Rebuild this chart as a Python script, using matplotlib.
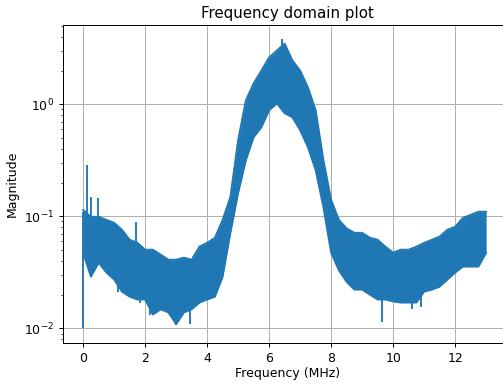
import matplotlib
matplotlib.use("Agg")
import matplotlib.pyplot as plt

freq = [0.0, 0.25, 0.5, 0.75, 1.0, 1.25, 1.5, 1.75, 2.0, 2.25, 2.5, 2.75, 3.0,
        3.25, 3.5, 3.75, 4.0, 4.25, 4.5, 4.75, 5.0, 5.25, 5.5, 5.75, 6.0, 6.25,
        6.5, 6.75, 7.0, 7.25, 7.5, 7.75, 8.0, 8.25, 8.5, 8.75, 9.0, 9.25, 9.5,
        9.75, 10.0, 10.25, 10.5, 10.75, 11.0, 11.25, 11.5, 11.75, 12.0, 12.25,
        12.5, 12.75, 13.0]
mag_upper = [0.114, 0.099, 0.099, 0.093, 0.0875, 0.076, 0.0618, 0.058, 0.0504,
             0.0504, 0.0455, 0.041, 0.041, 0.0428, 0.041, 0.0536, 0.058, 0.0644,
             0.093, 0.149, 0.479, 1.085, 1.54, 2.0, 2.62, 3.02, 3.48, 2.46, 2.0,
             1.42, 0.885, 0.318, 0.14, 0.093, 0.078, 0.0713, 0.0713, 0.0644,
             0.0618, 0.0536, 0.0474, 0.0504, 0.0504, 0.0536, 0.058, 0.0618,
             0.066, 0.076, 0.0807, 0.097, 0.103, 0.11, 0.11]
mag_lower = [0.047, 0.029, 0.0386, 0.0315, 0.0273, 0.0213, 0.0192, 0.0181,
             0.0181, 0.0133, 0.0148, 0.0139, 0.0109, 0.0139, 0.0148, 0.017,
             0.0181, 0.0192, 0.029, 0.0713, 0.162, 0.318, 0.509, 0.625, 0.885,
             1.02, 0.832, 0.766, 0.587, 0.415, 0.259, 0.121, 0.0474, 0.033,
             0.026, 0.0222, 0.0222, 0.020, 0.0181, 0.0181, 0.0174, 0.017, 0.017,
             0.017, 0.0213, 0.0222, 0.0236, 0.0273, 0.0315, 0.0356, 0.0356,
             0.0356, 0.0474]

# isolated spikes sticking out of the band: frequency, low end, high end
spike_freq = [0.0, 0.12, 0.26, 0.49, 1.71, 1.14, 1.84, 2.17, 2.99, 3.45, 6.41,
              9.63, 10.6, 10.9]
spike_low = [0.01, 0.05, 0.05, 0.05, 0.04, 0.0213, 0.017, 0.0133, 0.0107,
             0.011, 2.0, 0.0115, 0.0148, 0.0154]
spike_high = [0.11, 0.29, 0.149, 0.145, 0.089, 0.04, 0.03, 0.03, 0.025, 0.03,
              3.86, 0.03, 0.03, 0.03]

fig = plt.figure(figsize=(5.6, 385 / 90), dpi=90)
ax = fig.add_axes([0.125, 0.109, 0.89, 0.826])

ax.fill_between(freq, mag_lower, mag_upper, color="C0", lw=0, zorder=2)
ax.plot(freq, mag_upper, color="C0", lw=1.5, zorder=2)
ax.plot(freq, mag_lower, color="C0", lw=1.5, zorder=2)
ax.vlines(spike_freq, spike_low, spike_high, color="C0", lw=1.5, zorder=2)

ax.set_yscale("log")
ax.set_xlim(-0.65, 13.82)
ax.set_ylim(0.0074, 5.1)
ax.grid(True)
ax.set_axisbelow(True)
ax.set_xlabel("Frequency (MHz)", labelpad=1.6)
ax.set_ylabel("Magnitude")
ax.set_title("Frequency domain plot")

fig.savefig("out.png", dpi=90)
